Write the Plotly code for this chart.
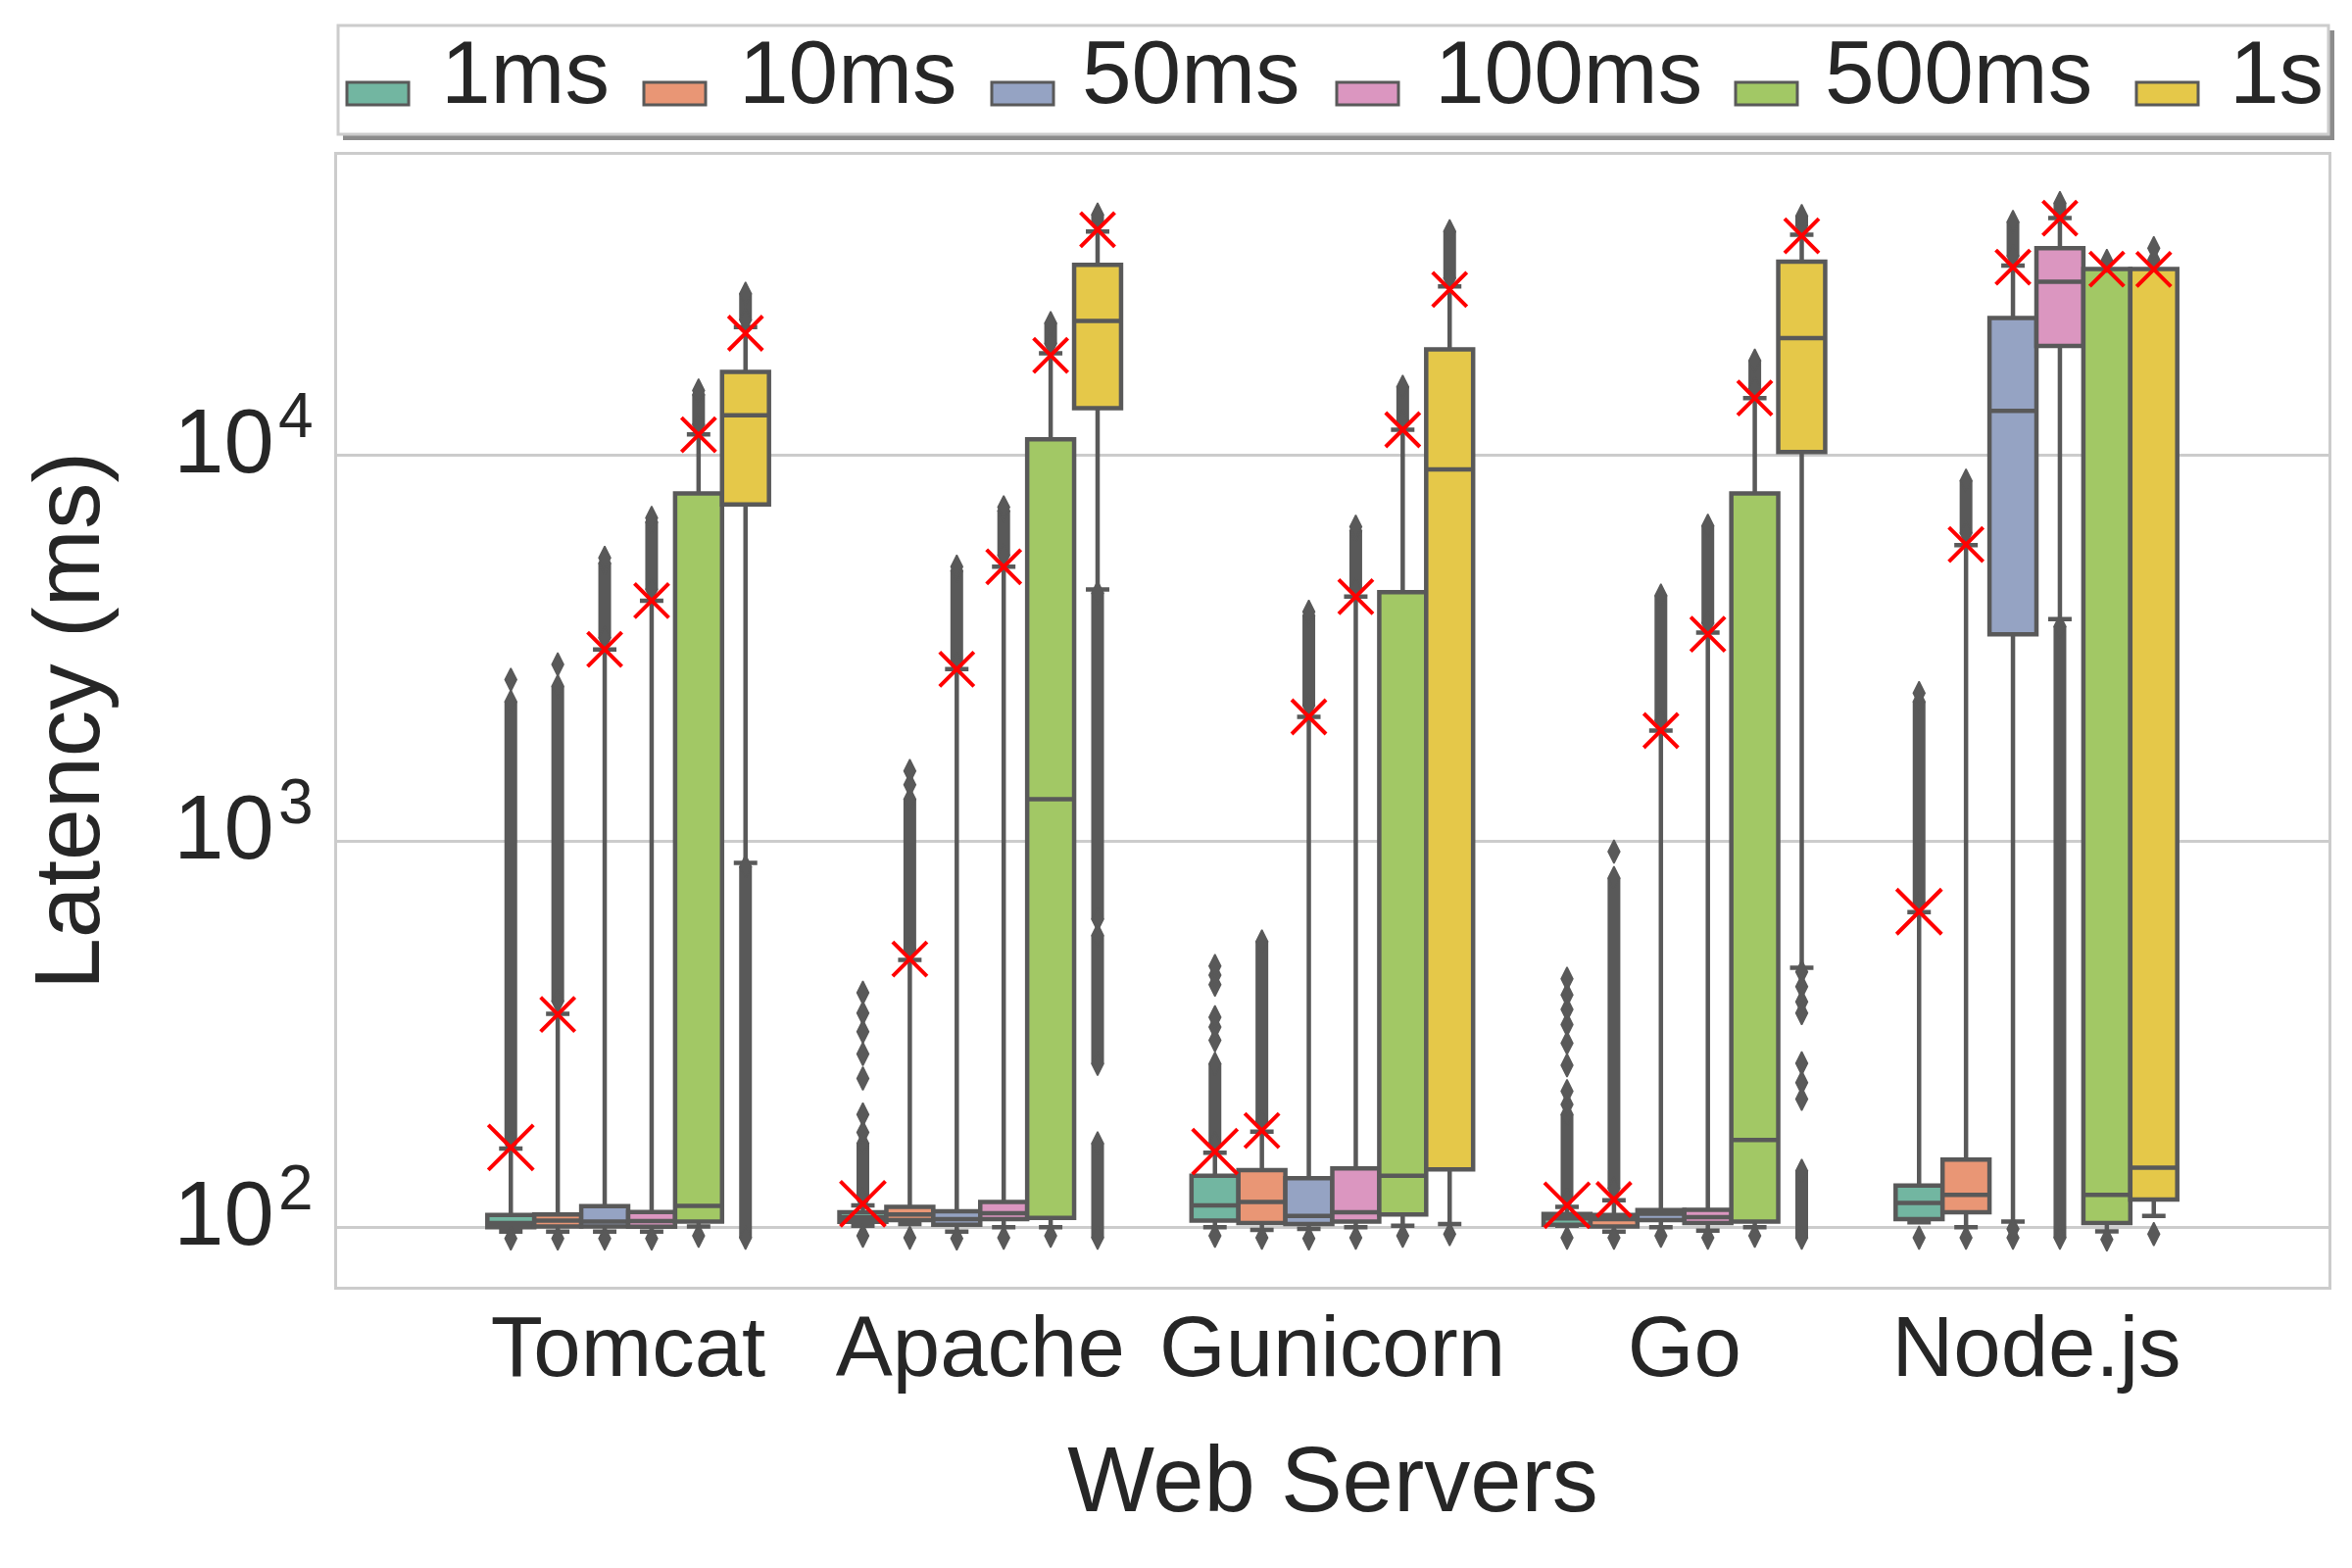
import colorsys
import math
import plotly.graph_objects as go

# ---------------- data ----------------
SERVERS = ["Tomcat", "Apache", "Gunicorn", "Go", "Node.js"]
DELAYS = ["1ms", "10ms", "50ms", "100ms", "500ms", "1s"]
Y_TICKS = [100, 1000, 10000]
Y_TICK_BASE = ["10", "10", "10"]
Y_TICK_EXP = ["2", "3", "4"]

# rows follow DELAYS, columns follow SERVERS (latency in ms)
Q1 = [
    [100, 103.3, 104, 101.5, 105],
    [100.5, 104.4, 102.5, 100.5, 109.3],
    [100.5, 101.5, 101.9, 104.4, 3435],
    [100.3, 105, 103.4, 102.5, 19180],
    [103.4, 105.7, 108, 103.4, 102.5],
    [7450, 13240, 141.3, 10190, 118],
]
MEDIAN = [
    [102.5, 106, 114, 105.5, 115.6],
    [104, 108, 116.3, 105, 121.4],
    [103.5, 105, 107, 108.4, 13030],
    [103.8, 108.8, 109.3, 106.3, 28120],
    [113.6, 1285, 136, 168.4, 121.4],
    [12680, 22280, 9180, 20090, 142.7],
]
Q3 = [
    [107.6, 109.4, 136, 108.2, 128.2],
    [108, 112.9, 140.7, 107.6, 149.8],
    [113.4, 110, 134, 110.8, 22660],
    [109.6, 116.3, 142, 111, 34350],
    [7960, 10990, 4420, 7960, 30340],
    [16440, 31120, 18800, 31700, 30340],
]
WHISKER_LOW = [
    [97.4, 101, 100, 101, 103],
    [97.4, 102, 98.5, 97.5, 100],
    [97.4, 97.5, 99, 100, 103.4],
    [97.4, 100, 100, 98, 3760],
    [100.5, 100, 101, 100, 97.6],
    [879, 4490, 102, 470, 107],
]
WHISKER_HIGH = [
    [160, 114, 156, 113, 655],
    [357, 493, 177, 117.5, 5850],
    [3140, 2790, 2100, 1935, 30980],
    [4200, 5140, 4300, 3470, 41120],
    [11320, 18360, 11640, 14060, 30340],
    [21470, 37940, 27350, 37240, 30340],
]
MEAN = [
    [161, 115, 157, 114, 657],
    [356, 495, 178, 118, 5870],
    [3140, 2790, 2100, 1935, 30700],
    [4200, 5140, 4300, 3440, 41120],
    [11300, 18130, 11640, 14060, 30340],
    [20700, 38400, 26860, 37000, 30300],
]
# dense runs of outliers: [low, high] pairs per box
FLIER_RUNS = [
    [[[165, 2300]], [[118, 165]], [[165, 265]], [[118, 196]], [[690, 2300]]],
    [[[385, 2520]], [[525, 1285]], [[188, 550]], [[126, 803]], [[6280, 8590]]],
    [[[3360, 5250]], [[2870, 5020]], [[2245, 3840]], [[2055, 4330]], [[32800, 40200]]],
    [[[4490, 6710]], [[5500, 7180]], [[4490, 6370]], [[3670, 6560]], [[42000, 45000], [94, 3600]]],
    [[[12000, 14350]], [[19450, 21970]], [[12280, 15030]], [[14880, 17570]], []],
    [[[22400, 26200], [94, 859]], [[40200, 42000], [628, 4400], [265, 570], [94, 165]],
     [[28700, 38000]], [[39300, 41600], [94, 140]], []],
]
# isolated outliers per box
FLIER_POINTS = [
    [[93.5, 2620], [95, 176, 196, 243, 281, 321, 359, 405], [95, 305, 330, 350, 425, 450, 475],
     [94, 208, 225, 263, 300, 335, 367, 400, 440], [94, 2420]],
    [[93.5, 2870], [94, 1400, 1520], [94], [94, 940], [94]],
    [[93.5, 5420], [93.5, 5140], [93.5, 3930], [95], [94, 99]],
    [[93.5, 6880], [94, 7330], [94, 6530], [94], []],
    [[95, 14700], [95], [95], [95], [93, 31840]],
    [[], [], [96], [459, 420, 384, 359, 266, 237, 215], [96, 32100, 34350]],
]

# ---------------- styling ----------------
SET2 = ["#66c2a5", "#fc8d62", "#8da0cb", "#e78ac3", "#a6d854", "#ffd92f"]


def desaturate(hexcol, prop=0.75):
    r, g, b = (int(hexcol[k:k + 2], 16) / 255 for k in (1, 3, 5))
    h, l, s = colorsys.rgb_to_hls(r, g, b)
    r, g, b = colorsys.hls_to_rgb(h, l, s * prop)
    return "#%02x%02x%02x" % (round(r * 255), round(g * 255), round(b * 255))


COLORS = [desaturate(c) for c in SET2]
GRAY = "#595959"
TEXT = "#262626"
FONT = "Liberation Sans, Arial, sans-serif"

W, H = 2400, 1600
ML, MR, MT, MB = 344, 24, 158, 287
PW, PH = W - ML - MR, H - MT - MB

n_ser = len(DELAYS)
BOX_W = 0.8 / n_ser


def xpos(i, j):
    return i + (j - (n_ser - 1) / 2) * BOX_W


fig = go.Figure()

# boxes
for j, d in enumerate(DELAYS):
    fig.add_trace(go.Box(
        x=[xpos(i, j) for i in range(len(SERVERS))],
        q1=Q1[j], median=MEDIAN[j], q3=Q3[j],
        lowerfence=WHISKER_LOW[j], upperfence=WHISKER_HIGH[j],
        width=BOX_W, whiskerwidth=0.5,
        fillcolor=COLORS[j], line=dict(color=GRAY, width=4.5),
        boxpoints=False, name=d, showlegend=False, hoverinfo="skip",
    ))

# outliers
run_x, run_y, pt_x, pt_y = [], [], [], []
for j in range(n_ser):
    for i in range(len(SERVERS)):
        xp = xpos(i, j)
        for lo, hi in FLIER_RUNS[j][i]:
            run_x += [xp, xp, None]
            run_y += [lo, hi, None]
            pt_x += [xp, xp]
            pt_y += [lo, hi]
        for v in FLIER_POINTS[j][i]:
            pt_x.append(xp)
            pt_y.append(v)

fig.add_trace(go.Scatter(x=run_x, y=run_y, mode="lines",
                         line=dict(color=GRAY, width=13),
                         showlegend=False, hoverinfo="skip"))
fig.add_trace(go.Scatter(x=pt_x, y=pt_y, mode="markers",
                         marker=dict(symbol="diamond-tall", size=17, color=GRAY,
                                     line=dict(color=GRAY, width=1.5)),
                         showlegend=False, hoverinfo="skip"))

# means
for j, d in enumerate(DELAYS):
    fig.add_trace(go.Scatter(
        x=[xpos(i, j) for i in range(len(SERVERS))], y=MEAN[j], mode="markers",
        marker=dict(symbol="x-thin", size=46 if j == 0 else 35, color="red",
                    line=dict(color="red", width=4)),
        showlegend=False, hoverinfo="skip", name=d + " mean",
    ))


# ---------------- manual legend (matplotlib-like) ----------------
def px2x(px):
    return (px - ML) / PW


def px2y(py):
    return (H - MB - py) / PH


shapes = [
    dict(type="rect", xref="paper", yref="paper",
         x0=px2x(350), x1=px2x(2382), y0=px2y(143), y1=px2y(31),
         fillcolor="#8c8c8c", line=dict(width=0), layer="above"),
    dict(type="rect", xref="paper", yref="paper",
         x0=px2x(345), x1=px2x(2376), y0=px2y(137), y1=px2y(26),
         fillcolor="white", line=dict(color="#cccccc", width=3), layer="above"),
]
PATCH_X = [354, 657, 1012, 1364, 1771, 2180]
TEXT_X = [448, 752, 1102, 1462, 1860, 2273]
annotations = []
for j, d in enumerate(DELAYS):
    shapes.append(dict(type="rect", xref="paper", yref="paper",
                       x0=px2x(PATCH_X[j]), x1=px2x(PATCH_X[j] + 63),
                       y0=px2y(107), y1=px2y(84),
                       fillcolor=COLORS[j], line=dict(color=GRAY, width=3), layer="above"))
    annotations.append(dict(text=d, xref="paper", yref="paper",
                            x=px2x(TEXT_X[j]), y=px2y(74), xanchor="left", yanchor="middle",
                            showarrow=False, font=dict(size=91, color=TEXT, family=FONT)))

# exponents of the y tick labels (mathtext-style superscripts)
for v, e in zip(Y_TICKS, Y_TICK_EXP):
    annotations.append(dict(text=e, xref="paper", yref="y",
                            x=px2x(282), y=math.log10(v), xanchor="left", yanchor="bottom",
                            yshift=2, showarrow=False,
                            font=dict(size=64, color=TEXT, family=FONT)))

fig.update_layout(
    width=W, height=H,
    margin=dict(l=ML, r=MR, t=MT, b=MB, autoexpand=False),
    paper_bgcolor="white", plot_bgcolor="white",
    font=dict(family=FONT, color=TEXT),
    shapes=shapes, annotations=annotations,
    showlegend=False, boxmode="overlay",
    xaxis=dict(
        range=[-0.8267, 4.8295], tickvals=list(range(len(SERVERS))), ticktext=SERVERS,
        showgrid=False, zeroline=False, showline=True, mirror=True,
        linecolor="#cccccc", linewidth=3, ticks="", ticklabelstandoff=-16,
        tickfont=dict(size=87, color=TEXT, family=FONT),
        title=dict(text="Web Servers", font=dict(size=94, color=TEXT, family=FONT), standoff=55),
        automargin=False,
    ),
    yaxis=dict(
        type="log", range=[1.846, 4.778],
        tickvals=Y_TICKS, ticktext=Y_TICK_BASE,
        showgrid=True, gridcolor="#cccccc", gridwidth=2.5, zeroline=False,
        showline=True, mirror=True, linecolor="#cccccc", linewidth=3,
        ticks="", ticklabelstandoff=43, ticklabelshift=-15,
        tickfont=dict(size=92, color=TEXT, family=FONT),
        title=dict(text="Latency (ms)", font=dict(size=95, color=TEXT, family=FONT), standoff=45),
        automargin=False,
    ),
)

fig.write_html("out.html", config={"displayModeBar": False})

# remove the browser's default 8px page margin so the figure sits at (0, 0)
with open("out.html", encoding="utf-8") as f:
    html = f.read()
html = html.replace("<head>", "<head><style>html,body{margin:0;padding:0;overflow:hidden}</style>", 1)
with open("out.html", "w", encoding="utf-8") as f:
    f.write(html)
